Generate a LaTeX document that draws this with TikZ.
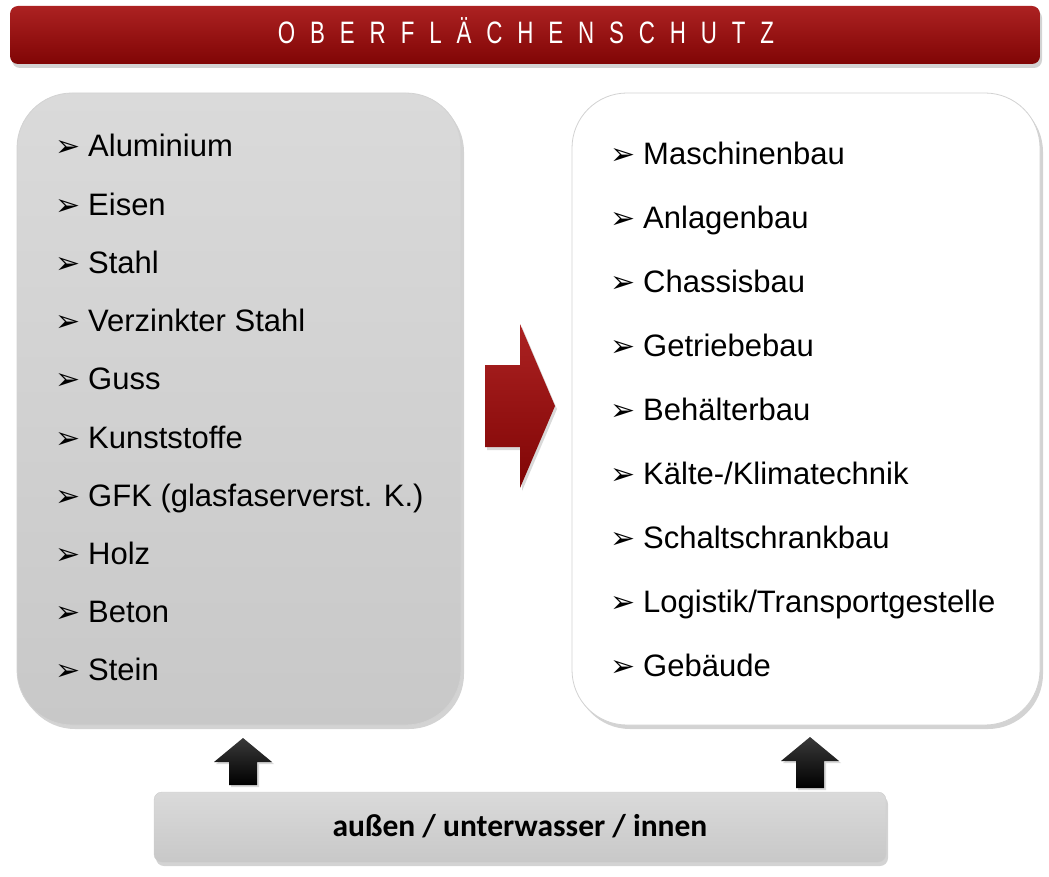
\documentclass[tikz,border=0pt]{standalone}
\usepackage{fontspec}
\setmainfont{Liberation Sans}
\newfontfamily\bulletfont{DejaVu Sans}
\newfontfamily\barfont{Carlito}
\newfontfamily\titlefont[FakeStretch=0.72,LetterSpace=48]{Liberation Sans}
\usetikzlibrary{shadows}
\definecolor{titlered}{RGB}{147,8,8}
\definecolor{titlelight}{RGB}{172,34,34}
\definecolor{titledark}{RGB}{128,5,5}
\definecolor{panelgray}{RGB}{200,200,200}
\definecolor{panellight}{RGB}{218,218,218}
\begin{document}
\begin{tikzpicture}[x=1pt, y=-1pt,
    panel/.style={draw=gray!35, line width=0.8pt, rounded corners=55pt, inner sep=0pt,
      drop shadow={opacity=0.35, shadow xshift=3pt, shadow yshift=-4pt}},
    bar/.style={rounded corners=8pt, inner sep=0pt,
      drop shadow={opacity=0.35, shadow xshift=2pt, shadow yshift=-4pt}},
    item/.style={anchor=base west, inner sep=0pt, font=\fontsize{31}{36}\selectfont},
    bullet/.style={anchor=base west, inner sep=0pt, font=\bulletfont\fontsize{30}{36}\selectfont}]

    \useasboundingbox (0,0) rectangle (1049,877);

    % Titelbalken
    \node[bar, minimum width=1030pt, minimum height=58pt, top color=titlelight,
      middle color=titlered, bottom color=titledark] (titel) at (525,35) {};
    \node[anchor=base, inner sep=0pt, text=white, font=\titlefont\fontsize{31}{36}\selectfont]
      (titeltext) at (526,43.5) {OBERFLÄCHENSCHUTZ};

    % Werkstoffe
    \node[panel, minimum width=444pt, minimum height=632pt, top color=panellight,
      bottom color=panelgray] (werkstoffe) at (239,409) {};
    \foreach \name [count=\i] in {Aluminium, Eisen, Stahl, Verzinkter Stahl, Guss,
        Kunststoffe, {GFK (glasfaserverst. K.)}, Holz, Beton, Stein} {
      \node[bullet] (bul-mat-\i) at (55,{157+58.2*(\i-1)}) {➢};
      \node[item] (mat-\i) at (88,{157+58.2*(\i-1)}) {\name};
    }

    % Anwendungen
    \node[panel, minimum width=468pt, minimum height=632pt, fill=white] (anwendung) at (806,409) {};
    \foreach \name [count=\i] in {Maschinenbau, Anlagenbau, Chassisbau, Getriebebau,
        Behälterbau, Kälte-/Klimatechnik, Schaltschrankbau,
        Logistik/Transportgestelle, Gebäude} {
      \node[bullet] (bul-app-\i) at (610,{165+63.9*(\i-1)}) {➢};
      \node[item] (app-\i) at (643,{165+63.9*(\i-1)}) {\name};
    }

    % Pfeil
    \shade[top color=titlelight, middle color=titlered, bottom color=titledark,
      drop shadow={opacity=0.3, shadow xshift=2pt, shadow yshift=-3pt}]
      (485,365) -- (520,365) -- (520,324) -- (555,406) -- (520,488) -- (520,447) -- (485,447) -- cycle;

    % Einsatzbereich
    \node[bar, minimum width=732pt, minimum height=70pt, top color=panellight,
      bottom color=panelgray, draw=gray!40, font=\barfont\bfseries\fontsize{31.5}{36}\selectfont]
      (umgebung) at (520,827) {\raisebox{3pt}{außen / unterwasser / innen}};

    % Pfeile nach oben
    \foreach \cx/\yt/\yb in {243/738/785, 810/737/788} {
      \shade[top color=gray!45!black, bottom color=black,
        drop shadow={opacity=0.3, shadow xshift=2pt, shadow yshift=-2pt}]
        (\cx-14,\yb) -- (\cx-14,\yt+24) -- (\cx-29,\yt+24) -- (\cx,\yt)
        -- (\cx+29,\yt+24) -- (\cx+14,\yt+24) -- (\cx+14,\yb) -- cycle;
    }
\end{tikzpicture}
\end{document}
